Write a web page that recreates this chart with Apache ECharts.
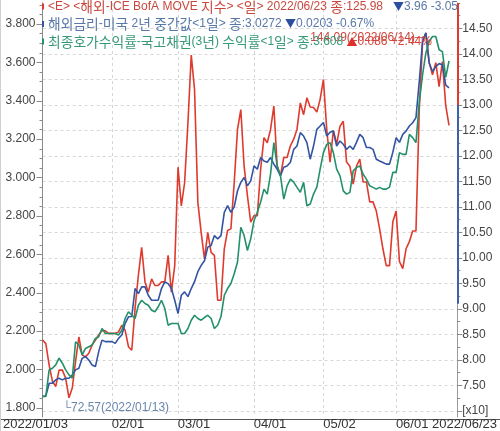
<!DOCTYPE html>
<html><head><meta charset="utf-8">
<script src="https://cdn.jsdelivr.net/npm/echarts@6/dist/echarts.min.js"></script>
<style>html,body{margin:0;padding:0;background:#fff}#wrap{position:relative;width:500px;height:431px}#c{width:500px;height:431px}#edge{position:absolute;left:0;top:0;width:1px;height:431px;background:#cfcfcf;pointer-events:none}</style>
</head><body><div id="wrap"><div id="c"></div><div id="edge"></div></div>
<script>
const dates = [
'2022/01/03','2022/01/04','2022/01/05','2022/01/06','2022/01/07','2022/01/10','2022/01/11','2022/01/12','2022/01/13','2022/01/14',
'2022/01/17','2022/01/18','2022/01/19','2022/01/20','2022/01/21','2022/01/24','2022/01/25','2022/01/26','2022/01/27','2022/01/28',
'2022/01/31','2022/02/01','2022/02/02','2022/02/03','2022/02/04','2022/02/07','2022/02/08','2022/02/09','2022/02/10','2022/02/11',
'2022/02/14','2022/02/15','2022/02/16','2022/02/17','2022/02/18','2022/02/21','2022/02/22','2022/02/23','2022/02/24','2022/02/25',
'2022/02/28','2022/03/01','2022/03/02','2022/03/03','2022/03/04','2022/03/07','2022/03/08','2022/03/09','2022/03/10','2022/03/11',
'2022/03/14','2022/03/15','2022/03/16','2022/03/17','2022/03/18','2022/03/21','2022/03/22','2022/03/23','2022/03/24','2022/03/25',
'2022/03/28','2022/03/29','2022/03/30','2022/03/31','2022/04/01','2022/04/04','2022/04/05','2022/04/06','2022/04/07','2022/04/08',
'2022/04/11','2022/04/12','2022/04/13','2022/04/14','2022/04/15','2022/04/18','2022/04/19','2022/04/20','2022/04/21','2022/04/22',
'2022/04/25','2022/04/26','2022/04/27','2022/04/28','2022/04/29','2022/05/02','2022/05/03','2022/05/04','2022/05/05','2022/05/06',
'2022/05/09','2022/05/10','2022/05/11','2022/05/12','2022/05/13','2022/05/16','2022/05/17','2022/05/18','2022/05/19','2022/05/20',
'2022/05/23','2022/05/24','2022/05/25','2022/05/26','2022/05/27','2022/05/30','2022/05/31','2022/06/01','2022/06/02','2022/06/03',
'2022/06/06','2022/06/07','2022/06/08','2022/06/09','2022/06/10','2022/06/13','2022/06/14','2022/06/15','2022/06/16','2022/06/17',
'2022/06/20','2022/06/21','2022/06/22','2022/06/23'];

// 해외-ICE BofA MOVE 지수 (right axis, shown x10)
const moveIndex = [
83.9, 83.2, 79.0, 75.8, 74.8, 78.0, 78.0, 76.4, 72.57, 74.5,
79.7, 84.5, 81.0, 80.6, 81.3, 82.9, 83.9, 84.9, 85.8, 85.7,
85.2, 85.2, 85.2, 85.5, 86.8, 85.8, 82.6, 81.9, 90.1, 96.6,
102.1, 95.3, 93.3, 95.9, 94.6, 94.6, 95.3, 95.3, 100.5, 93.3,
98.5, 117.8, 110.2, 114.8, 126.5, 139.8, 133.0, 110.9, 105.0, 99.8,
105.0, 101.1, 100.5, 91.7, 91.7, 101.8, 105.4, 105.7, 114.8, 125.2,
129.1, 118.0, 112.2, 107.0, 108.3, 108.3, 117.4, 123.6, 122.6, 125.2,
129.8, 118.0, 116.1, 119.7, 119.7, 122.0, 123.3, 125.2, 130.4, 128.1,
131.4, 129.6, 129.5, 128.6, 131.1, 135.0, 125.2, 118.8, 125.0, 122.3,
125.8, 126.8, 118.8, 118.0, 114.5, 118.0, 119.4, 114.9, 114.9, 111.0,
111.0, 109.2, 105.7, 101.8, 98.5, 98.5, 107.1, 109.2, 99.3, 97.9,
101.8, 103.2, 105.3, 105.3, 129.1, 142.4, 144.09, 138.3, 135.9, 138.3,
133.6, 138.5, 129.94, 125.98];

// 해외금리-미국 2년 중간값 (own hidden axis)
const us2y = [
0.778, 0.780, 0.874, 0.874, 0.898, 0.910, 0.898, 0.910, 0.910, 0.934,
0.971, 0.983, 1.055, 1.068, 1.043, 1.007, 0.995, 1.104, 1.188, 1.177,
1.177, 1.177, 1.164, 1.201, 1.225, 1.310, 1.358, 1.360, 1.564, 1.527,
1.576, 1.576, 1.515, 1.479, 1.479, 1.479, 1.564, 1.612, 1.600, 1.564,
1.479, 1.382, 1.515, 1.540, 1.505, 1.564, 1.614, 1.687, 1.733, 1.767,
1.866, 1.878, 1.950, 1.926, 1.950, 2.120, 2.168, 2.120, 2.159, 2.277,
2.338, 2.374, 2.313, 2.349, 2.458, 2.434, 2.519, 2.494, 2.485, 2.519,
2.471, 2.434, 2.386, 2.449, 2.458, 2.485, 2.579, 2.603, 2.701, 2.676,
2.628, 2.507, 2.603, 2.725, 2.749, 2.775, 2.676, 2.703, 2.712, 2.603,
2.640, 2.616, 2.579, 2.603, 2.579, 2.630, 2.688, 2.664, 2.592, 2.592,
2.579, 2.507, 2.494, 2.483, 2.471, 2.471, 2.558, 2.664, 2.630, 2.688,
2.712, 2.749, 2.773, 2.810, 3.073, 3.370, 3.428, 3.209, 3.146, 3.182,
3.204, 3.196, 3.0475, 3.0272];

// 최종호가수익률-국고채권(3년) (left axis)
const ktb3y = [
1.860, 1.860, 1.998, 2.007, 2.024, 2.059, 2.033, 1.998, 1.972, 1.955,
2.145, 2.128, 2.076, 2.110, 2.119, 2.128, 2.162, 2.171, 2.214, 2.188,
2.188, 2.188, 2.188, 2.180, 2.205, 2.266, 2.301, 2.283, 2.266, 2.335,
2.361, 2.344, 2.335, 2.309, 2.301, 2.327, 2.361, 2.318, 2.231, 2.240,
2.240, 2.240, 2.188, 2.188, 2.214, 2.257, 2.283, 2.266, 2.257, 2.271,
2.283, 2.266, 2.214, 2.231, 2.276, 2.387, 2.422, 2.448, 2.499, 2.560,
2.741, 2.698, 2.620, 2.681, 2.776, 2.819, 2.873, 2.940, 2.914, 3.018,
3.182, 3.061, 3.009, 2.888, 2.957, 2.992, 2.976, 2.949, 2.923, 2.975,
2.853, 2.862, 2.914, 2.950, 3.044, 3.130, 3.173, 3.182, 3.130, 3.044,
3.009, 2.931, 2.914, 2.923, 3.035, 3.052, 3.061, 3.018, 2.992, 2.957,
2.949, 2.940, 2.949, 2.940, 2.940, 2.950, 3.027, 3.027, 3.130, 3.121,
3.121, 3.225, 3.208, 3.182, 3.391, 3.536, 3.649, 3.709, 3.735, 3.735,
3.666, 3.656, 3.522, 3.608];

const xLabelDates = ['2022/01/03','2022/02/01','2022/03/01','2022/04/01','2022/05/02','2022/06/01','2022/06/23'];
const xLabelText  = ['2022/01/03','02/01','03/01','04/01','05/02','06/01','2022/06/23'];
const leftTickLabels  = [1.8, 2.0, 2.2, 2.4, 2.6, 2.8, 3.0, 3.2, 3.4, 3.6, 3.8];
const rightTickLabels = [70, 75, 80, 85, 90, 95, 100, 105, 110, 115, 120, 125, 130, 135, 140, 145];
const rightBands = [[150, 130], [130, 91]];

const RED = '#de3b2e', BLUE = '#3354a2', GREEN = '#23906a';
const RED_T = '#c9483e', BLUE_T = '#5878a8', GREEN_T = '#379a76';
const LEFT_MIN = 1.7528, LEFT_MAX = 3.9094;
const RIGHT_MIN = 68.81, RIGHT_MAX = 150;
const BLUE_MIN = 0.6274, BLUE_MAX = 3.646;
const X_MAX = 125.5;

const n = dates.length, last = n - 1;
const xy = arr => arr.map((v, i) => [i, v]);
const xLabelIdx = xLabelDates.map(d => dates.indexOf(d));
const xGridIdx = xLabelIdx.slice(1, -1);
const leftMinor = []; for (let v = 1.80; v <= 3.90001; v += 0.05) leftMinor.push(+v.toFixed(2));
const rightMinor = []; for (let v = 70; v <= 150; v += 2.5) rightMinor.push(v);

function chg(arr, dec) {
  const d = arr[last] - arr[last - 1];
  const p = d / arr[last - 1] * 100;
  const sign = d >= 0 ? '+' : '-';
  return { up: d >= 0, tri: d >= 0 ? '▲' : '▼', abs: Math.abs(d).toFixed(dec), pct: sign + Math.abs(p).toFixed(2) + '%' };
}
const cR = chg(moveIndex, 2), cB = chg(us2y, 4), cG = chg(ktb3y, 3);
const lastDate = dates[last];
let minI = 0, maxI = 0;
moveIndex.forEach((v, i) => { if (v < moveIndex[minI]) minI = i; if (v > moveIndex[maxI]) maxI = i; });

const LAT = "'Liberation Sans',sans-serif";
const CJK = "'Noto Sans CJK KR',sans-serif";
const SIZES = { t: 12, h: 13.8, tri: 11, d: 12 };
const FAMS = { t: LAT, h: CJK, tri: CJK, d: LAT };
const mctx = document.createElement('canvas').getContext('2d');
function measure(txt, s) { mctx.font = SIZES[s] + 'px ' + FAMS[s]; return mctx.measureText(txt).width; }
function buildTokens(text, c) {
  const toks = [];
  text.split(/([\uAC00-\uD7A3]+)/).forEach(part => {
    if (part) toks.push({ s: /[\uAC00-\uD7A3]/.test(part) ? 'h' : 't', x: part });
  });
  toks.push({ s: 'tri', x: c.tri });
  toks.push({ s: 'd', x: c.abs + ' ' + c.pct });
  return toks;
}
function fitTokens(toks, limit) {
  let used = 0; const out = [];
  for (const tk of toks) {
    const w = measure(tk.x, tk.s);
    if (used + w <= limit) { out.push(tk); used += w; continue; }
    let s = tk.x;
    while (s.length && used + measure(s, tk.s) > limit) s = s.slice(0, -1);
    if (s) out.push({ s: tk.s, x: s });
    break;
  }
  return out;
}
function legendTitle(top, barColor, textColor, text, c, chgColor, triColor) {
  const base = { fontWeight: 'normal', lineHeight: 17 };
  const toks = fitTokens(buildTokens(text, c), 411);
  const mk = s => Object.assign({ fontFamily: FAMS[s], fontSize: SIZES[s] }, base);
  return {
    left: 42, top: top, padding: 0,
    text: '{b| }{s| }' + toks.map(tk => '{' + tk.s + '|' + tk.x + '}').join(''),
    textStyle: {
      fontWeight: 'normal',
      rich: {
        b: { width: 2, height: 6, backgroundColor: barColor },
        s: Object.assign({ width: 4, fontSize: 12 }, base),
        t: Object.assign(mk('t'), { color: textColor }),
        h: Object.assign(mk('h'), { color: textColor }),
        tri: Object.assign(mk('tri'), { color: triColor }),
        d: Object.assign(mk('d'), { color: chgColor })
      }
    }
  };
}

const chart = echarts.init(document.getElementById('c'), null, { renderer: 'canvas' });
chart.setOption({
  animation: false,
  backgroundColor: '#fff',
  textStyle: { fontFamily: LAT },
  title: [
    legendTitle(-2, RED, RED_T, '<E> <해외-ICE BofA MOVE 지수> <일> ' + lastDate + ' 종:' + moveIndex[last].toFixed(2) + '   ', cR, cR.up ? RED_T : BLUE_T, cR.up ? '#e0302a' : '#2b4f9e'),
    legendTitle(15.5, BLUE, BLUE_T, '해외금리-미국 2년 중간값<1일> 종:' + us2y[last].toFixed(4) + ' ', cB, cB.up ? RED_T : BLUE_T, cB.up ? '#e0302a' : '#2b4f9e'),
    legendTitle(33, GREEN, GREEN_T, '최종호가수익률-국고채권(3년) 수익률<1일> 종:' + ktb3y[last].toFixed(3) + ' ', cG, cG.up ? '#d8433a' : BLUE_T, cG.up ? '#e0302a' : '#2b4f9e')
  ],
  grid: [
    { left: 40, right: 40, top: 3, bottom: 12 },
    { left: 0, right: 0, bottom: 12, height: 1 }
  ],
  xAxis: [
    {
      type: 'value', gridIndex: 0, min: 0, max: X_MAX,
      axisLine: { show: false },
      axisTick: { show: false, customValues: xGridIdx },
      splitLine: { show: true, lineStyle: { color: '#d6d6d6', type: [3, 3], width: 1 } },
      axisLabel: {
        customValues: xLabelIdx, margin: 1, color: '#333', fontSize: 13,
        formatter: function (v) {
          const k = xLabelIdx.indexOf(Math.round(v));
          if (k < 0) return '';
          const tag = k === 0 ? 'f' : (k === xLabelIdx.length - 1 ? 'l' : 'm');
          return '{' + tag + '|' + xLabelText[k] + '}';
        },
        rich: {
          f: { fontSize: 13, color: '#333', padding: [0, 14, 0, 0] },
          m: { fontSize: 13, color: '#333', padding: [0, 0, 0, 32] },
          l: { fontSize: 13, color: '#333', padding: [0, 0, 0, 31] }
        }
      }
    },
    {
      type: 'value', gridIndex: 1, min: 0, max: 1,
      axisLine: { show: true, lineStyle: { color: '#555', width: 1 } },
      axisTick: { show: false }, axisLabel: { show: false }, splitLine: { show: false }
    }
  ],
  yAxis: [
    { // 0: left, KTB 3Y
      type: 'value', gridIndex: 0, position: 'left', min: LEFT_MIN, max: LEFT_MAX,
      axisLine: { show: true, lineStyle: { color: '#8a8a8a' } },
      axisTick: { show: true, length: 6, customValues: leftTickLabels, lineStyle: { color: '#8a8a8a' } },
      axisLabel: { customValues: leftTickLabels, margin: 7, color: '#444', fontSize: 12, formatter: v => v.toFixed(3) },
      splitLine: { show: false }
    },
    { // 1: right, MOVE (x10)
      type: 'value', gridIndex: 0, position: 'right', min: RIGHT_MIN, max: RIGHT_MAX,
      axisLine: { show: true, lineStyle: { color: '#9a9a9a' } },
      axisTick: { show: true, length: 5, customValues: rightTickLabels, lineStyle: { color: '#8a8a8a' } },
      axisLabel: { customValues: rightTickLabels, margin: 5, color: '#444', fontSize: 12,
        formatter: v => (Math.abs(v - rightTickLabels[0]) < 1e-6 ? '[x10]' : (v / 10).toFixed(2)) },
      splitLine: { show: true, lineStyle: { color: '#d6d6d6', type: [3, 3], width: 1 } }
    },
    { // 2: hidden axis for US 2Y
      type: 'value', gridIndex: 0, position: 'left', min: BLUE_MIN, max: BLUE_MAX, show: false
    },
    { // 3: left minor ticks
      type: 'value', gridIndex: 0, position: 'left', min: LEFT_MIN, max: LEFT_MAX,
      axisLine: { show: false }, axisLabel: { show: false }, splitLine: { show: false },
      axisTick: { show: true, length: 3, customValues: leftMinor, lineStyle: { color: '#8a8a8a' } }
    },
    { // 4: right minor ticks
      type: 'value', gridIndex: 0, position: 'right', min: RIGHT_MIN, max: RIGHT_MAX,
      axisLine: { show: false }, axisLabel: { show: false }, splitLine: { show: false },
      axisTick: { show: true, length: 3, customValues: rightMinor, lineStyle: { color: '#8a8a8a' } }
    },
    { type: 'value', gridIndex: 1, show: false }
  ],
  series: [
    {
      name: 'MOVE', type: 'line', xAxisIndex: 0, yAxisIndex: 1, data: xy(moveIndex),
      symbol: 'none', clip: false, z: 3,
      lineStyle: { color: RED, width: 1.6 }, itemStyle: { color: RED },
      markPoint: {
        silent: true, symbol: 'circle', symbolSize: 1, itemStyle: { color: 'rgba(0,0,0,0)' },
        data: [
          { coord: [minI, moveIndex[minI]], value: moveIndex[minI],
            label: { show: true, position: [-6, 10], align: 'left', verticalAlign: 'middle', fontSize: 12, color: '#6a86ad',
              fontFamily: "'Liberation Sans','DejaVu Sans',sans-serif",
              formatter: '└' + moveIndex[minI].toFixed(2) + '(' + dates[minI] + ')' } },
          { coord: [maxI, moveIndex[maxI]], value: moveIndex[maxI],
            label: { show: true, position: [-2, 5], align: 'right', verticalAlign: 'middle', fontSize: 12, color: RED_T,
              fontFamily: "'Liberation Sans','DejaVu Sans',sans-serif",
              formatter: moveIndex[maxI].toFixed(2) + '(' + dates[maxI] + ')─' } }
        ]
      },
      markLine: {
        silent: true, symbol: ['none', 'none'], animation: false,
        label: { show: false },
        data: [
          { yAxis: moveIndex[last], lineStyle: { opacity: 0 },
            label: { show: true, position: 'end', distance: 2, color: '#fff', backgroundColor: '#3d62a8',
              fontSize: 12, lineHeight: 11, padding: [2, 4, 1, 4], align: 'left',
              formatter: (moveIndex[last] / 10).toFixed(2) + '\n' + cR.pct } },
          [ { coord: [X_MAX, rightBands[0][0]], lineStyle: { color: RED, width: 2, type: 'solid' } }, { coord: [X_MAX, rightBands[0][1]] } ],
          [ { coord: [X_MAX, rightBands[1][0]], lineStyle: { color: '#3d62a8', width: 2, type: 'solid' } }, { coord: [X_MAX, rightBands[1][1]] } ]
        ]
      }
    },
    {
      name: 'US2Y', type: 'line', xAxisIndex: 0, yAxisIndex: 2, data: xy(us2y),
      symbol: 'none', z: 4, lineStyle: { color: BLUE, width: 1.6 }, itemStyle: { color: BLUE }
    },
    {
      name: 'KTB3Y', type: 'line', xAxisIndex: 0, yAxisIndex: 0, data: xy(ktb3y),
      symbol: 'none', z: 5, lineStyle: { color: GREEN, width: 1.6 }, itemStyle: { color: GREEN }
    }
  ]
});
</script>
</body></html>
